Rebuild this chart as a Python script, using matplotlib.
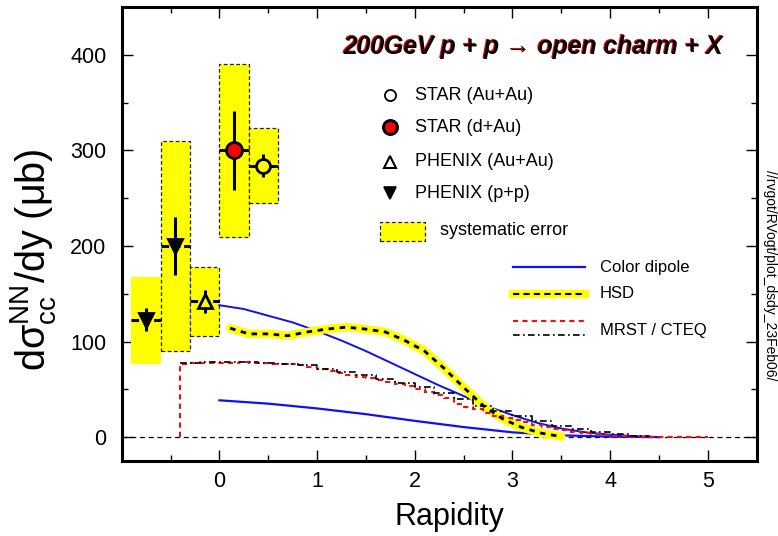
import numpy as np
import matplotlib
matplotlib.use("Agg")
import matplotlib.pyplot as plt
from matplotlib.ticker import MultipleLocator
from matplotlib.patches import Rectangle
import matplotlib.transforms as mtransforms

plt.rcParams['font.family'] = ['Liberation Sans', 'DejaVu Sans']
plt.rcParams['mathtext.fontset'] = 'custom'
plt.rcParams['mathtext.rm'] = 'Liberation Sans'
plt.rcParams['mathtext.it'] = 'Liberation Sans:italic'
plt.rcParams['mathtext.bf'] = 'Liberation Sans:bold'

# ---------------- data ----------------
# systematic-error boxes (rapidity centre, low, high)
sys_x = [-0.75, -0.45, -0.15, 0.15, 0.45]
sys_lo = [77, 90, 106, 209, 245]
sys_hi = [168, 310, 178, 390, 323]
sys_width = 0.3

# data points
phenix_pp_x = [-0.75, -0.45]
phenix_pp_y = [123, 200]
phenix_pp_err = [12, 30]

phenix_auau_x = [-0.15]
phenix_auau_y = [142]
phenix_auau_err = [12]

star_dau_x = [0.15]
star_dau_y = [300]
star_dau_err = [41]

star_auau_x = [0.45]
star_auau_y = [284]
star_auau_err = [12]

# Color dipole curves
dip_hi_x = [0.0, 0.25, 0.5, 0.75, 1.0, 1.25, 1.5, 1.75, 2.0, 2.25, 2.5,
            2.75, 3.0, 3.25, 3.5, 3.75, 4.0, 4.25, 4.5]
dip_hi = [138, 134, 127, 120, 111, 101, 90, 78, 66, 54, 43,
          32, 23, 15, 9, 5, 2.5, 1, 0]
dip_lo_x = [0.0, 0.5, 1.0, 1.5, 2.0, 2.5, 3.0, 3.5, 4.0, 4.5]
dip_lo = [38.5, 35, 30, 24, 17, 10.5, 5, 1.8, 0.5, 0]

# HSD
hsd_x = [0.11, 0.3, 0.5, 0.7, 0.9, 1.1, 1.3, 1.5, 1.7, 1.9, 2.1, 2.3, 2.5,
         2.7, 2.9, 3.1, 3.3, 3.5]
hsd_y = [114, 108, 108, 106, 110, 113, 115, 113, 110, 101, 90, 72, 52,
         33, 19, 10, 4, 0.5]

# MRST (histogram, bins of 0.1 from -0.4 to 5.0)
mrst_edges = np.round(np.arange(-0.4, 5.0001, 0.1), 2)
mrst_y = [77, 78, 78, 78,
          78, 78, 79, 78, 78,
          77, 77, 76, 75, 73,
          71, 69, 67, 65, 63,
          62, 60, 58, 56, 53,
          50, 47, 44, 41, 35,
          32, 29, 25, 22, 20,
          18, 16, 13, 11, 9,
          7, 5, 4, 3, 2,
          1.5, 1, 0.6, 0.3, 0.2,
          0.1, 0, 0, 0, 0]

# CTEQ (bins of 0.2)
cteq_x = [-0.4, -0.2, 0.0, 0.2, 0.4, 0.6, 0.8, 1.0, 1.2, 1.4, 1.6, 1.8, 2.0,
          2.2, 2.4, 2.6, 2.8, 3.0, 3.2, 3.4, 3.6, 3.8, 4.0, 4.2, 4.4]
cteq_y = [78, 79, 79, 79, 78, 77, 75, 71, 68, 65, 61, 57, 52,
          46, 40, 33, 27, 22, 17, 12, 8, 5, 3, 1.5, 0.5]

xticks = [0, 1, 2, 3, 4, 5]
yticks = [0, 100, 200, 300, 400]

marker_labels = ['STAR (Au+Au)', 'STAR (d+Au)', 'PHENIX (Au+Au)', 'PHENIX (p+p)']
curve_labels = ['Color dipole', 'HSD', 'MRST / CTEQ']

# ---------------- figure ----------------
W, H = 778, 536
fig = plt.figure(figsize=(W / 100, H / 100), dpi=100)
L, R, T, B = 121.7, 756.7, 7, 461
ax = fig.add_axes([L / W, 1 - B / H, (R - L) / W, (B - T) / H])
ax.set_xlim(-1, 5.5)
ax.set_ylim(-25, 450)

def axf(px, py):
    return ((px - L) / (R - L), (B - py) / (B - T))

YEL = '#FFFF00'
BLUE = '#1010F0'

# systematic boxes
heights = [h - l for h, l in zip(sys_hi, sys_lo)]
ax.bar(sys_x, heights, bottom=sys_lo, width=sys_width, color=YEL,
       edgecolor=['none', '#222222', '#222222', '#222222', '#222222'],
       linestyle=(0, (3, 2)), linewidth=0.9, zorder=2)

ax.axhline(0, color='k', lw=0.9, ls=(0, (4, 3)), zorder=1)

# curves
ax.plot(dip_hi_x, dip_hi, color=BLUE, lw=1.4, zorder=3)
ax.plot(dip_lo_x, dip_lo, color=BLUE, lw=1.6, zorder=3)
ax.plot(hsd_x, hsd_y, color=YEL, lw=6, solid_capstyle='round', zorder=3)
ax.plot(hsd_x, hsd_y, color='k', lw=2.0, ls=(0, (2, 2)), zorder=4)
ax.stairs(mrst_y, mrst_edges, baseline=0, color='#EE1111', lw=1.5,
          ls=(0, (2.5, 2)), zorder=3)
ax.plot(cteq_x, cteq_y, color='k', lw=1.2, ls=(0, (4, 2, 1, 2)),
        drawstyle='steps-post', zorder=3)

# data points
def pts(x, y, err, marker, ms, mfc, dashed_h=False):
    eb = ax.errorbar(x, y, yerr=err, xerr=sys_width / 2, fmt='none',
                     ecolor='k', elinewidth=2.2, capsize=0, zorder=5)
    if dashed_h:
        eb[2][0].set_linestyle((0, (2.5, 1.2)))
    ax.plot(x, y, ls='none', marker=marker, ms=ms, mfc=mfc, mec='k',
            mew=2.0, zorder=6)

pts(phenix_pp_x, phenix_pp_y, phenix_pp_err, 'v', 9.5, 'k', dashed_h=True)
pts(phenix_auau_x, phenix_auau_y, phenix_auau_err, '^', 10, YEL, dashed_h=True)
pts(star_dau_x, star_dau_y, star_dau_err, 'o', 11.5, '#FF0000')
pts(star_auau_x, star_auau_y, star_auau_err, 'o', 10, YEL)

# axes styling
for s in ax.spines.values():
    s.set_linewidth(2.2)
ax.set_xticks(xticks)
ax.set_yticks(yticks)
ax.xaxis.set_minor_locator(MultipleLocator(0.5))
ax.yaxis.set_minor_locator(MultipleLocator(50))
ax.tick_params(which='both', direction='in', top=True, right=True, width=1.0)
ax.tick_params(which='major', length=8)
ax.tick_params(which='minor', length=4.5)
ax.tick_params(axis='y', labelsize=15.5, pad=11)
ax.tick_params(axis='x', labelsize=15.5, pad=7)

fig.text(449 / W, 1 - 517 / H, 'Rapidity', fontsize=22, ha='center', va='center')
fig.text(33 / W, 1 - 260 / H, r'dσ$_{\mathrm{cc}}^{\mathrm{NN}}$/dy (μb)',
         fontsize=28.5, rotation=90, ha='center', va='center')
fig.text(770 / W, 1 - 275 / H, '//rvgot/RVogt/plot_dsdy_23Feb06/', fontsize=10,
         rotation=-90, ha='center', va='center')

# title with red shadow
tx, ty = axf(533.4, 46.7)
title = '200GeV p + p → open charm + X'
sh = mtransforms.offset_copy(ax.transAxes, fig=fig, x=-1.5, y=1.0, units='dots')
ax.text(tx, ty, title, transform=sh, fontsize=17.8, fontweight='bold',
        fontstyle='italic', color='#EE0000', ha='center', va='center', zorder=7)
ax.text(tx, ty, title, transform=ax.transAxes, fontsize=17.8, fontweight='bold',
        fontstyle='italic', color='k', ha='center', va='center', zorder=8)

# marker legend
leg_rows = [95, 127.3, 161.7, 193.3]
leg_style = [('o', 8, 'none', 1.3), ('o', 10, '#FF0000', 2.2),
             ('^', 8.5, 'none', 1.5), ('v', 8.5, 'k', 1.2)]
for lab, py, (mk, ms, mfc, mew) in zip(marker_labels, leg_rows, leg_style):
    x0, y0 = axf(390, py)
    ax.plot([x0], [y0], transform=ax.transAxes, marker=mk, ms=ms, mfc=mfc,
            mec='k', mew=mew, ls='none', clip_on=False, zorder=8)
    x1, _ = axf(415, py)
    ax.text(x1, y0, lab, transform=ax.transAxes, fontsize=13, va='center',
            ha='left')
bx0, by0 = axf(380, 240.7)
bx1, by1 = axf(425, 221.7)
ax.add_patch(Rectangle((bx0, by0), bx1 - bx0, by1 - by0, transform=ax.transAxes,
                       facecolor=YEL, edgecolor='#222222', lw=0.9,
                       ls=(0, (3, 2)), zorder=8))
tx1, ty1 = axf(440, 231)
ax.text(tx1, ty1, 'systematic error', transform=ax.transAxes, fontsize=13,
        va='center', ha='left')

# curve legend
lx0, _ = axf(513, 0)
lx1, _ = axf(585, 0)
ltx, _ = axf(600, 0)
_, y1 = axf(0, 267.3)
ax.plot([lx0, lx1], [y1, y1], transform=ax.transAxes, color=BLUE, lw=1.6)
ax.text(ltx, y1, curve_labels[0], transform=ax.transAxes, fontsize=12, va='center')
_, y2 = axf(0, 294)
ax.plot([lx0, lx1], [y2, y2], transform=ax.transAxes, color=YEL, lw=6)
ax.plot([lx0, lx1], [y2, y2], transform=ax.transAxes, color='k', lw=1.5,
        ls=(0, (3, 2)))
ax.text(ltx, y2, curve_labels[1], transform=ax.transAxes, fontsize=12, va='center')
_, y3 = axf(0, 321)
_, y4 = axf(0, 335)
_, y5 = axf(0, 331)
ax.plot([lx0, lx1], [y3, y3], transform=ax.transAxes, color='#EE1111', lw=1.5,
        ls=(0, (2.5, 2)))
ax.plot([lx0, lx1], [y4, y4], transform=ax.transAxes, color='k', lw=1.2,
        ls=(0, (4, 2, 1, 2)))
ax.text(ltx, y5, curve_labels[2], transform=ax.transAxes, fontsize=12, va='center')

fig.savefig('out.png', dpi=100)
